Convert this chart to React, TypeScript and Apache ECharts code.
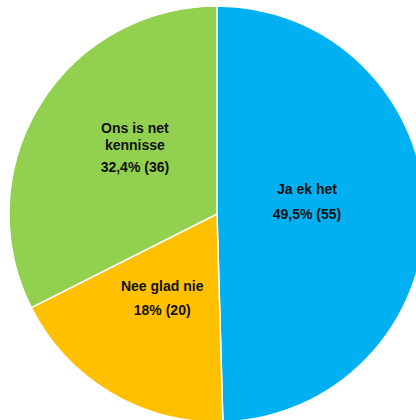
import React, { useEffect, useRef } from "react";
import * as echarts from "echarts";

const categories = ["Ja ek het", "Nee glad nie", "Ons is net\nkennisse"];
const values = [55, 20, 36];
const percentLabels = ["49,5%", "18%", "32,4%"];
const colors = ["#00B0F0", "#FFC000", "#92D050"];
const labelOffsets: [number, number][] = [
  [-17, -11],
  [0, -8],
  [9, -8],
];
const nameLineHeights = [25, 24, 17];
const valueLineHeights = [25, 24, 27];

export default function App() {
  const ref = useRef<HTMLDivElement>(null);
  useEffect(() => {
    if (!ref.current) return;
    const chart = echarts.init(ref.current, undefined, { renderer: "svg" });
    const data = categories.map((name, i) => ({
      name,
      value: values[i],
      itemStyle: { color: colors[i] },
      label: {
        offset: labelOffsets[i],
        rich: {
          n: {
            fontSize: 14,
            fontWeight: "bold",
            fontFamily: "Liberation Sans, Arial, sans-serif",
            color: "#111",
            lineHeight: nameLineHeights[i],
            align: "center",
          },
          v: {
            fontSize: 14,
            fontWeight: "bold",
            fontFamily: "Liberation Sans, Arial, sans-serif",
            color: "#111",
            lineHeight: valueLineHeights[i],
            align: "center",
          },
        },
      },
    }));
    chart.setOption({
      animation: false,
      series: [
        {
          type: "pie",
          center: [217, 214],
          radius: 208,
          startAngle: 90,
          clockwise: true,
          avoidLabelOverlap: false,
          itemStyle: { borderColor: "#ffffff", borderWidth: 1.5 },
          label: {
            show: true,
            position: "inside",
            formatter: (p: any) => {
              const lines = String(p.name).split("\n");
              return (
                lines.map((l) => `{n|${l}}`).join("\n") +
                `\n{v|${percentLabels[p.dataIndex]} (${p.value})}`
              );
            },
          },
          labelLine: { show: false },
          emphasis: { disabled: true },
          data,
        },
      ],
    });
    return () => chart.dispose();
  }, []);
  return (
    <div
      ref={ref}
      style={{ position: "absolute", left: 0, top: 0, width: 416, height: 420, background: "#fff" }}
    />
  );
}
